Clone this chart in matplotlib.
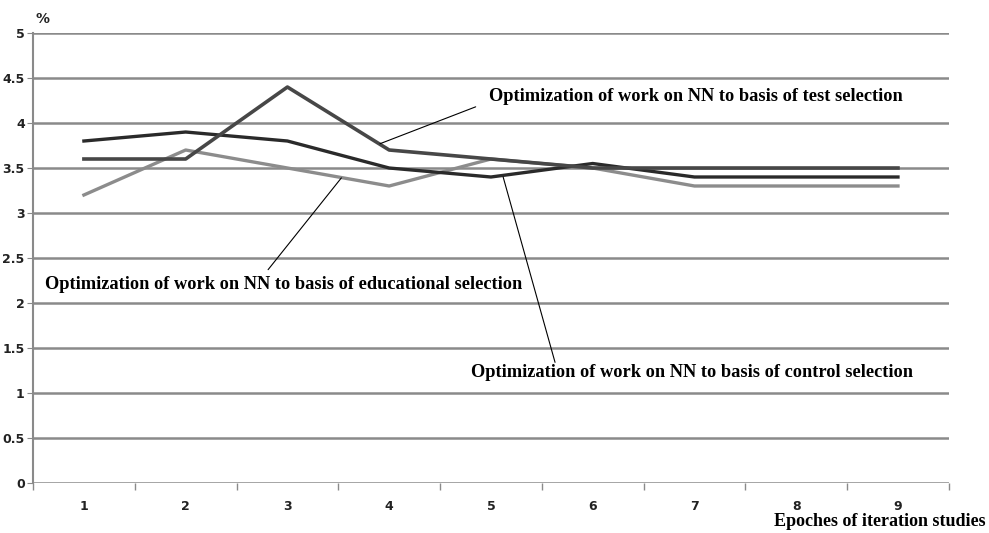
import matplotlib
matplotlib.use("Agg")
import matplotlib.pyplot as plt

epochs = [1, 2, 3, 4, 5, 6, 7, 8, 9]
test_sel = [3.6, 3.6, 4.4, 3.7, 3.6, 3.5, 3.5, 3.5, 3.5]
control_sel = [3.8, 3.9, 3.8, 3.5, 3.4, 3.55, 3.4, 3.4, 3.4]
educ_sel = [3.2, 3.7, 3.5, 3.3, 3.6, 3.5, 3.3, 3.3, 3.3]
y_ticks = [0, 0.5, 1, 1.5, 2, 2.5, 3, 3.5, 4, 4.5, 5]
y_labels = ["0", "0.5", "1", "1.5", "2", "2.5", "3", "3.5", "4", "4.5", "5"]

fig = plt.figure(figsize=(9.89, 5.33), dpi=100)
ax = fig.add_axes([0.0334, 0.094, 0.926, 0.844])

grid_c = "#8a8a8a"
for y in y_ticks:
    ax.axhline(y, color=grid_c, lw=1.8, zorder=1)

ax.plot(epochs, educ_sel, color="#8c8c8c", lw=2.4, zorder=3)
ax.plot(epochs, control_sel, color="#2a2a2a", lw=2.4, zorder=4)
ax.plot(epochs, test_sel, color="#474747", lw=2.6, zorder=5)

ax.set_xlim(0.5, 9.5)
ax.set_ylim(0, 5)
for s in ["top", "right", "bottom"]:
    ax.spines[s].set_visible(False)
ax.spines["left"].set_color(grid_c)
ax.spines["left"].set_linewidth(1.5)

ax.set_yticks(y_ticks)
ax.set_yticklabels(y_labels, fontsize=9, fontweight="bold", color="#222222")
ax.tick_params(axis="y", length=4, color=grid_c, pad=2)

# category boundaries as ticks, labels in the middle
ax.set_xticks([k + 0.5 for k in range(0, 10)])
ax.set_xticklabels([])
ax.tick_params(axis="x", length=5, color=grid_c, width=1)
ax.set_xticks(epochs, minor=True)
ax.set_xticklabels([str(e) for e in epochs], minor=True, fontsize=9,
                   fontweight="bold", color="#222222")
ax.tick_params(axis="x", which="minor", length=0, pad=12)

serif = "Liberation Serif"
ax.text(0.52, 5.08, "%", fontsize=10, fontweight="bold", color="#222222", va="bottom")
fig.text(0.997, 0.005, "Epoches of iteration studies", fontsize=13,
         fontweight="bold", family=serif, ha="right", va="bottom")

# leader lines + callout labels
callouts = [
    ("Optimization of work on NN to basis of test selection",
     (3.91, 3.77), (4.85, 4.18), (4.98, 4.29)),
    ("Optimization of work on NN to basis of educational selection",
     (3.53, 3.39), (2.81, 2.37), (0.62, 2.21)),
    ("Optimization of work on NN to basis of control selection",
     (5.12, 3.40), (5.63, 1.34), (4.80, 1.23)),
]
for label, pt, end, txt in callouts:
    ax.annotate("", xy=pt, xytext=end,
                arrowprops=dict(arrowstyle="-", lw=0.8, color="black",
                                shrinkA=0, shrinkB=0), zorder=6)
    ax.text(txt[0], txt[1], label, fontsize=13.2, fontweight="bold",
            family=serif, ha="left", va="center", zorder=7)

fig.savefig("out.png", dpi=100)
